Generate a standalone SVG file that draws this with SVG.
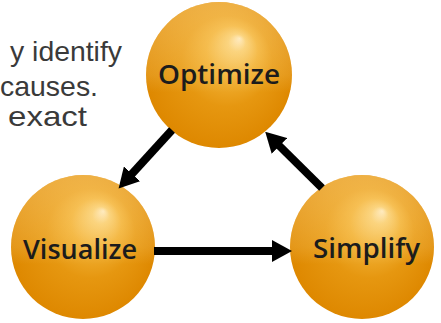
<svg xmlns="http://www.w3.org/2000/svg" width="441" height="323" viewBox="0 0 441 323">
  <defs>
    <!-- glossy orange sphere: highlight up and to the right -->
    <radialGradient id="sphere" cx="0.5" cy="0.5" r="0.5" fx="0.64" fy="0.25">
      <stop offset="0" stop-color="#FFF4DC"/>
      <stop offset="0.12" stop-color="#F9D27A"/>
      <stop offset="0.35" stop-color="#F1B033"/>
      <stop offset="0.62" stop-color="#E69710"/>
      <stop offset="1" stop-color="#DE8800"/>
    </radialGradient>
    <linearGradient id="sheen" x1="0" y1="0" x2="0" y2="1">
      <stop offset="0" stop-color="#FFD98A" stop-opacity="0.5"/>
      <stop offset="0.5" stop-color="#FFD98A" stop-opacity="0.18"/>
      <stop offset="0.62" stop-color="#FFD98A" stop-opacity="0"/>
    </linearGradient>
    <marker id="head" viewBox="0 0 20 22" refX="2" refY="11" markerWidth="20" markerHeight="22" markerUnits="userSpaceOnUse" orient="auto">
      <path d="M0,0 L20,11 L0,22 Z" fill="#000"/>
    </marker>
  </defs>
  <style>
    .ball { fill: url(#sphere); }
    .gloss { fill: url(#sheen); }
    .label { font-family: "Open Sans", "Liberation Sans", sans-serif; font-weight: 600; font-size: 27px; fill: #1c1c1c; }
    .body { font-family: "Liberation Sans", "DejaVu Sans", sans-serif; font-size: 28px; fill: #3a3a3a; }
    .link { stroke: #000; stroke-width: 8; fill: none; marker-end: url(#head); }
  </style>

  <rect width="441" height="323" fill="#fff"/>

  <!-- paragraph fragment behind the cycle -->
  <g id="paragraph">
    <text class="body" x="10" y="61" textLength="112" lengthAdjust="spacingAndGlyphs">y identify</text>
    <text class="body" x="0" y="96" textLength="98" lengthAdjust="spacingAndGlyphs">causes.</text>
    <text class="body" x="8" y="126" textLength="79" lengthAdjust="spacingAndGlyphs">exact</text>
  </g>

  <g id="optimize">
    <circle class="ball" cx="219" cy="75" r="73"/>
    <circle class="gloss" cx="219" cy="75" r="73"/>
    <text class="label" x="158" y="84" textLength="122" lengthAdjust="spacingAndGlyphs">Optimize</text>
  </g>

  <g id="visualize">
    <circle class="ball" cx="83" cy="247" r="72"/>
    <circle class="gloss" cx="83" cy="247" r="72"/>
    <text class="label" x="23" y="259" textLength="114" lengthAdjust="spacingAndGlyphs">Visualize</text>
  </g>

  <g id="simplify">
    <circle class="ball" cx="362" cy="247" r="72"/>
    <circle class="gloss" cx="362" cy="247" r="72"/>
    <text class="label" x="313" y="258" textLength="107" lengthAdjust="spacingAndGlyphs">Simplify</text>
  </g>

  <g id="connectors">
    <line class="link" x1="172" y1="130" x2="130.7" y2="175.3"/>
    <line class="link" x1="154" y1="251" x2="274" y2="251"/>
    <line class="link" x1="322" y1="188" x2="278" y2="144.5"/>
  </g>
</svg>
